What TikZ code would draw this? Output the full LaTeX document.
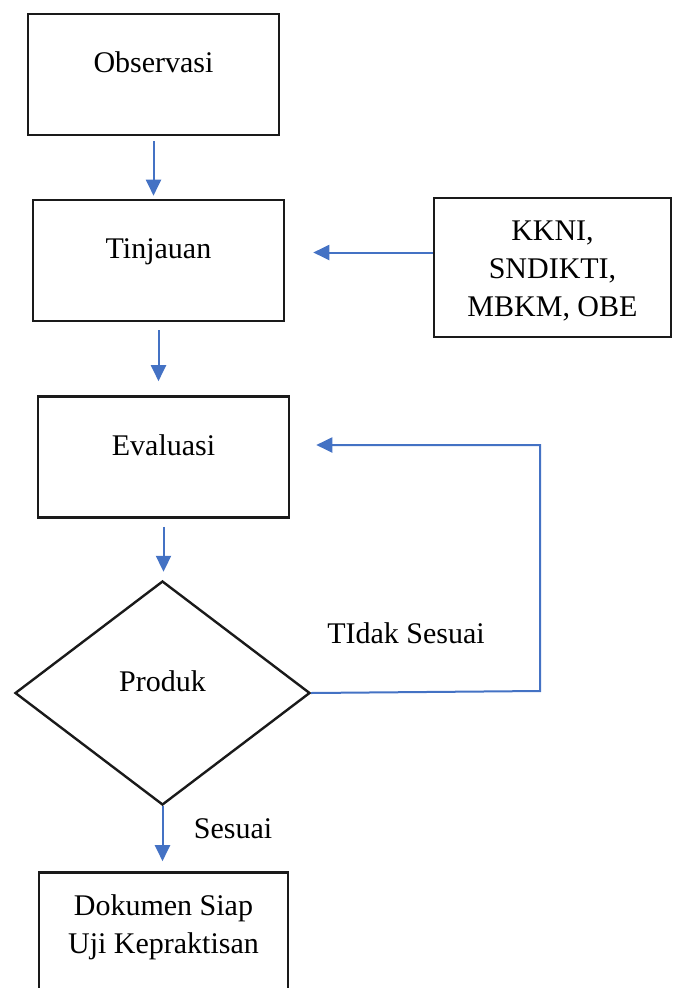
\documentclass[tikz,border=0pt]{standalone}
\usepackage{fontspec}
\setmainfont{Liberation Serif}
\usepackage{xcolor}
\usepackage{tikz}
\usetikzlibrary{arrows.meta,calc,positioning,shapes.geometric}
\definecolor{ink}{HTML}{1A1A1A}
\definecolor{flowblue}{HTML}{4472C4}
\tikzset{
  procbox/.style={draw=ink,line width=2.6pt,minimum width=251pt,minimum height=121pt,
    font=\fontsize{30pt}{38pt}\selectfont,align=center,text height=21pt,text depth=25pt},
  inputbox/.style={draw=ink,line width=2.6pt,minimum width=237pt,minimum height=139pt,
    font=\fontsize{30pt}{38pt}\selectfont,align=center,text height=103pt,text depth=6pt},
  decision/.style={diamond,draw=ink,line width=2.4pt,minimum width=295pt,minimum height=224pt,
    font=\fontsize{30pt}{38pt}\selectfont,text height=21pt,text depth=25pt},
  flowlabel/.style={font=\fontsize{30pt}{38pt}\selectfont},
  flow/.style={-{Triangle[length=16pt,width=15pt]},draw=flowblue,line width=2pt}
}

\begin{document}
\begin{tikzpicture}[x=1pt,y=-1pt]
  \useasboundingbox (0,0) rectangle (673,988);
  \node[procbox] (obs) at (153.5,74.5) {Observasi};
  \node[procbox] (tin) at (158.5,260.5) {Tinjauan};
  \node[inputbox] (kkni) at (552.5,267.5) {KKNI,\\SNDIKTI,\\MBKM, OBE};
  \node[procbox] (eval) at (163.5,457) {Evaluasi};
  \node[decision] (prod) at (162.5,693) {Produk};
  \node[procbox,minimum width=249pt,text height=59pt,text depth=19pt] (dok) at (163.5,933) {Dokumen Siap\\Uji Kepraktisan};
  \node[flowlabel] (tidak) at (406,633) {TIdak Sesuai};
  \node[flowlabel] (sesuai) at (233,829) {Sesuai};
  \coordinate (turn) at (540,691);
  % main flow
  \draw[flow,shorten <=5pt,shorten >=3pt] (obs.south) -- (obs.south |- tin.north);
  \draw[flow,shorten <=8pt,shorten >=14pt] (tin.south) -- (tin.south |- eval.north);
  \draw[flow,shorten <=8pt,shorten >=8pt] (eval.south) -- (eval.south |- prod.north);
  \draw[flow,shorten <=0pt,shorten >=10pt] (prod.south) -- (prod.south |- dok.north);
  \draw[flow,shorten >=28pt] ([yshift=15pt]kkni.west) -- ([yshift=15pt]kkni.west -| tin.east);
  % back to evaluasi
  \draw[flow,shorten >=26pt] (prod.east) -- (turn) |- ([yshift=12pt]eval.east);
\end{tikzpicture}
\end{document}
